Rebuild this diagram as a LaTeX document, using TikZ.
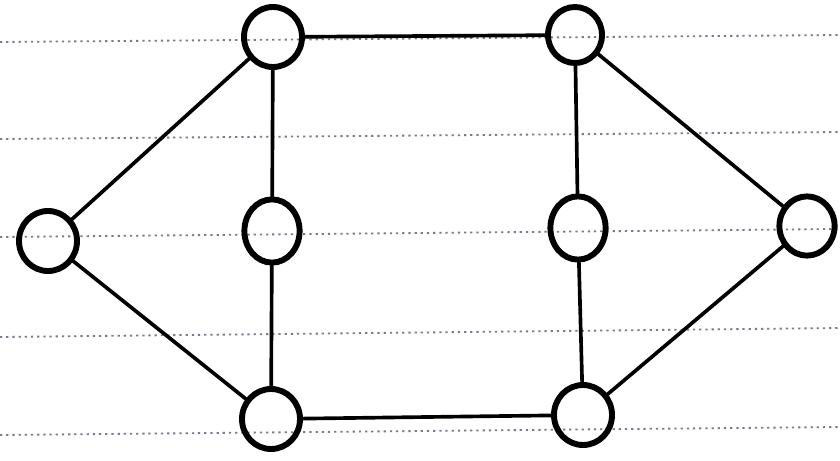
\documentclass[tikz,border=0pt]{standalone}
\usetikzlibrary{shapes.geometric}
\definecolor{ruleink}{RGB}{120,124,140}
\begin{document}
\begin{tikzpicture}[x=0.025cm,y=-0.025cm,
  vtx/.style={draw=black, ellipse, line width=4.2pt, inner sep=0pt, minimum width=1.45cm, minimum height=1.5cm},
  tallvtx/.style={vtx, minimum width=1.38cm, minimum height=1.58cm},
  edge/.style={draw=black, line width=2.6pt, line cap=round},
  rule/.style={draw=ruleink, line width=1.3pt, dash pattern=on 1.6pt off 2.8pt}]
\useasboundingbox (0,0) rectangle (840,460);
\fill[white] (0,0) rectangle (840,460);
% ruled paper lines
\coordinate (r1a) at (0,42);  \coordinate (r1b) at (840,35);
\coordinate (r2a) at (0,139); \coordinate (r2b) at (840,132);
\coordinate (r3a) at (0,237); \coordinate (r3b) at (840,229);
\coordinate (r4a) at (0,337); \coordinate (r4b) at (840,328);
\coordinate (r5a) at (0,435); \coordinate (r5b) at (840,427);
\draw[rule] (r1a) -- (r1b);
\draw[rule] (r2a) -- (r2b);
\draw[rule] (r3a) -- (r3b);
\draw[rule] (r4a) -- (r4b);
\draw[rule] (r5a) -- (r5b);
% vertices
\node[vtx] (L)  at (48,241) {};
\node[vtx] (TL) at (273,37) {};
\node[tallvtx] (ML) at (272,231) {};
\node[vtx] (BL) at (271,419) {};
\node[vtx, minimum width=1.35cm, minimum height=1.4cm] (TR) at (575,35) {};
\node[tallvtx] (MR) at (578,228) {};
\node[vtx] (BR) at (583,415) {};
\node[vtx, minimum width=1.38cm, minimum height=1.48cm] (R) at (807,226) {};
% edges
\draw[edge] (L) -- (TL);
\draw[edge] (L) -- (BL);
\draw[edge] (TL) -- (ML);
\draw[edge] (ML) -- (BL);
\draw[edge] (TL) -- (TR);
\draw[edge] (BL) -- (BR);
\draw[edge] (TR) -- (MR);
\draw[edge] (MR) -- (BR);
\draw[edge] (TR) -- (R);
\draw[edge] (BR) -- (R);
\end{tikzpicture}
\end{document}
